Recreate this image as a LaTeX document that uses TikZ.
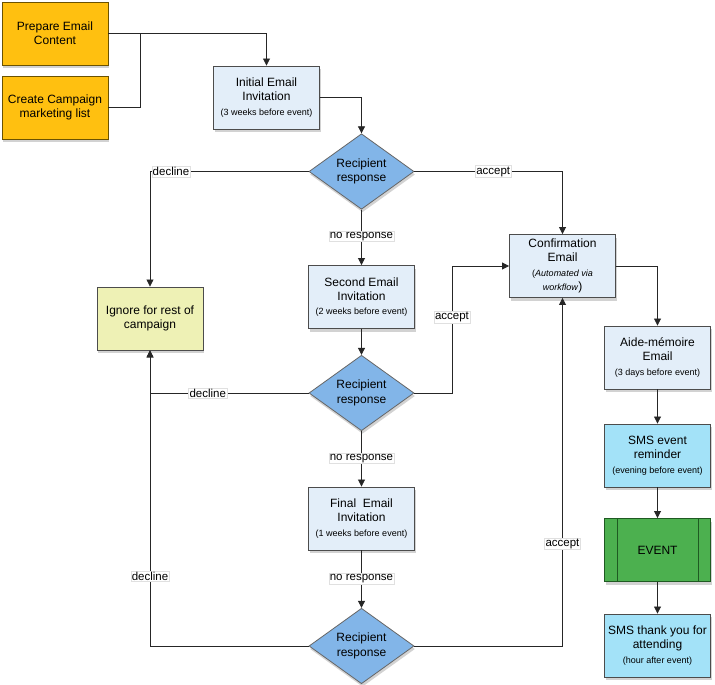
\documentclass[tikz,border=0pt]{standalone}
\usepackage{fontspec}
\setmainfont{Liberation Sans}
\usetikzlibrary{shapes.geometric,arrows.meta,shadows,calc}
\definecolor{orangeF}{HTML}{FFC010}
\definecolor{orangeD}{HTML}{6B5200}
\definecolor{mailblue}{HTML}{E3EEF9}
\definecolor{diamblue}{HTML}{82B5E8}
\definecolor{smsblue}{HTML}{A3E2F8}
\definecolor{ignoreF}{HTML}{EEF1B5}
\definecolor{eventF}{HTML}{4CB04F}
\definecolor{eventD}{HTML}{1F5A22}
\begin{document}
\begin{tikzpicture}[x=1pt,y=-1pt,
  shad/.style={drop shadow={shadow xshift=1pt,shadow yshift=-3pt,fill=black!35,opacity=0.5}},
  box/.style={draw=black!70,line width=0.9pt,minimum width=106pt,minimum height=63pt,
    align=center,inner sep=2pt,font=\fontsize{12}{14.3}\selectfont,shad},
  prepbox/.style={box,fill=orangeF,draw=orangeD},
  mailbox/.style={box,fill=mailblue},
  smsbox/.style={box,fill=smsblue},
  ignbox/.style={box,fill=ignoreF},
  evbox/.style={box,fill=eventF,draw=eventD},
  decide/.style={diamond,draw=black!60,line width=0.8pt,fill=diamblue,minimum width=105pt,
    minimum height=62pt,inner sep=0pt,align=center,font=\fontsize{12}{14.3}\selectfont,shad},
  conn/.style={draw=black!85,line width=0.8pt},
  arr/.style={conn,-{Triangle[length=7pt,width=7pt]}},
  lbl/.style={fill=white,draw=black!12,line width=0.3pt,inner sep=1pt,font=\fontsize{11.5}{13}\selectfont}
]
\newcommand{\smalltxt}[1]{{\fontsize{9}{11.5}\selectfont #1}}
\useasboundingbox (0,0) rectangle (715,685);
\fill[white] (0,0) rectangle (715,685);

% nodes
\node[prepbox] (prep) at (55,33.5) {Prepare Email\\Content};
\node[prepbox] (camp) at (55,107.5) {Create Campaign\\marketing list};
\node[mailbox] (init) at (266.5,97.5) {Initial Email\\Invitation\\\smalltxt{(3 weeks before event)}};
\node[decide] (d1) at (361.5,171.5) {Recipient\\response};
\node[mailbox] (conf) at (562.5,266) {Confirmation\\Email\\\smalltxt{(\textit{Automated via}}\\\smalltxt{\textit{workflow}})};
\node[mailbox] (second) at (361.5,297) {Second Email\\Invitation\\\smalltxt{(2 weeks before event)}};
\node[ignbox] (ignore) at (150,318.5) {Ignore for rest of\\campaign};
\node[decide] (d2) at (361.5,393) {Recipient\\response};
\node[mailbox] (final) at (361.5,518.5) {Final\ \ Email\\Invitation\\\smalltxt{(1 weeks before event)}};
\node[decide] (d3) at (361.5,646) {Recipient\\response};
\node[mailbox] (aide) at (657.5,357.5) {Aide-mémoire\\Email\\\smalltxt{(3 days before event)}};
\node[smsbox] (smsr) at (657.5,455.5) {SMS event\\reminder\\\smalltxt{(evening before event)}};
\node[evbox] (event) at (657.5,550) {EVENT};
\draw[draw=eventD,line width=0.9pt] ($(event.north west)+(13,0)$) -- ($(event.south west)+(13,0)$);
\draw[draw=eventD,line width=0.9pt] ($(event.north east)+(-13,0)$) -- ($(event.south east)+(-13,0)$);
\node[smsbox] (thanks) at (657.5,645.5) {SMS thank you for\\attending\\\smalltxt{(hour after event)}};

% connectors
\coordinate (j1) at (140,33.5);
\draw[arr] (prep.east) -| (init.north);
\draw[conn] (camp.east) -| (j1);
\draw[arr] (init.east) -| (d1.north);
\draw[arr] (d1.west) -| (ignore.north) node[lbl,pos=0.434] {decline};
\draw[arr] (d1.east) -| (conf.north) node[lbl,pos=0.266] {accept};
\draw[arr] (d1.south) -- (second.north) node[lbl,pos=0.48] {no response};
\draw[arr] (second.south) -- (d2.north);
\draw[arr] (d2.west) -| (ignore.south) node[lbl,pos=0.318] {decline};
\coordinate (k2) at (452,393);
\draw[arr] (d2.east) -- (k2) |- (conf.west) node[lbl,pos=0.299] {accept};
\draw[arr] (d2.south) -- (final.north) node[lbl,pos=0.49] {no response};
\draw[arr] (final.south) -- (d3.north) node[lbl,pos=0.49] {no response};
\draw[arr] (d3.west) -| (ignore.south) node[lbl,pos=0.618] {decline};
\draw[arr] (d3.east) -| (conf.south) node[lbl,pos=0.647] {accept};
\draw[arr] (conf.east) -| (aide.north);
\draw[arr] (aide.south) -- (smsr.north);
\draw[arr] (smsr.south) -- (event.north);
\draw[arr] (event.south) -- (thanks.north);
\end{tikzpicture}
\end{document}
